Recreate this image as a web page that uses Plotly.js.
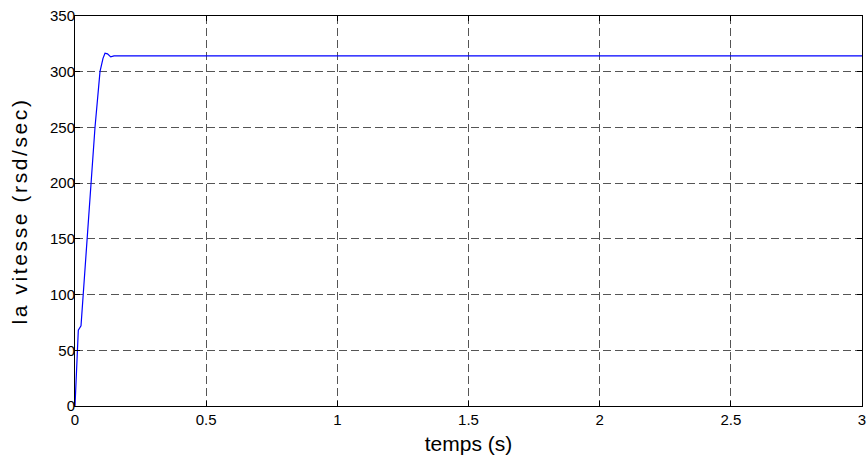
<!DOCTYPE html>
<html>
<head>
<meta charset="utf-8">
<script src="https://cdn.plot.ly/plotly-3.0.1.min.js"></script>
<style>
html,body{margin:0;padding:0;background:#fff;}
#chart{width:867px;height:457px;}
#chart .ytitle{letter-spacing:2.6px;}
</style>
</head>
<body>
<div id="chart"></div>
<script>
// time (s)
const timeS = [0, 0.0038, 0.0076, 0.0126, 0.0229, 0.0316, 0.0469, 0.0599, 0.0762, 0.0953, 0.1067, 0.1144, 0.1239, 0.1361, 0.1487, 0.2, 0.5, 1.0, 1.5, 2.0, 2.5, 3.0];
// speed (rad/sec)
const speed = [0, 20, 50, 68, 72, 100, 150, 200, 250, 300, 312, 316.6, 316, 313.3, 314.2, 314.2, 314.2, 314.2, 314.2, 314.2, 314.2, 314.2];
const xTickVals = [0, 0.5, 1, 1.5, 2, 2.5, 3];
const xTickText = ['0', '0.5', '1', '1.5', '2', '2.5', '3'];
const yTickVals = [0, 50, 100, 150, 200, 250, 300, 350];
const yTickText = ['0', '50', '100', '150', '200', '250', '300', '350'];

const font = {family: '"Liberation Sans", Arial, sans-serif', size: 15, color: '#000'};
const titleFont = {family: '"Liberation Sans", Arial, sans-serif', size: 21, color: '#000'};
const axisCommon = {
  showline: true, linecolor: '#000', linewidth: 1, mirror: 'ticks',
  ticks: 'inside', ticklen: 5, tickcolor: '#000',
  showgrid: true, gridcolor: '#555', gridwidth: 1, griddash: '8px,4px',
  zeroline: false, tickfont: font
};
const layout = {
  width: 867, height: 457,
  margin: {l: 75, r: 5, t: 16, b: 51},
  paper_bgcolor: '#fff', plot_bgcolor: '#fff',
  showlegend: false,
  xaxis: Object.assign({}, axisCommon, {
    range: [0, 3], tickmode: 'array', tickvals: xTickVals, ticktext: xTickText,
    ticklabelstandoff: 0,
    title: {text: 'temps (s)', font: titleFont, standoff: 9}
  }),
  yaxis: Object.assign({}, axisCommon, {
    range: [0, 350], tickmode: 'array', tickvals: yTickVals, ticktext: yTickText,
    ticklabelstandoff: -4,
    title: {text: 'la vitesse (rsd/sec)', font: titleFont, standoff: 16}
  })
};
Plotly.newPlot('chart', [{
  x: timeS, y: speed, type: 'scatter', mode: 'lines',
  line: {color: '#0000ff', width: 1.2}
}], layout, {staticPlot: true, displayModeBar: false});
</script>
</body>
</html>
